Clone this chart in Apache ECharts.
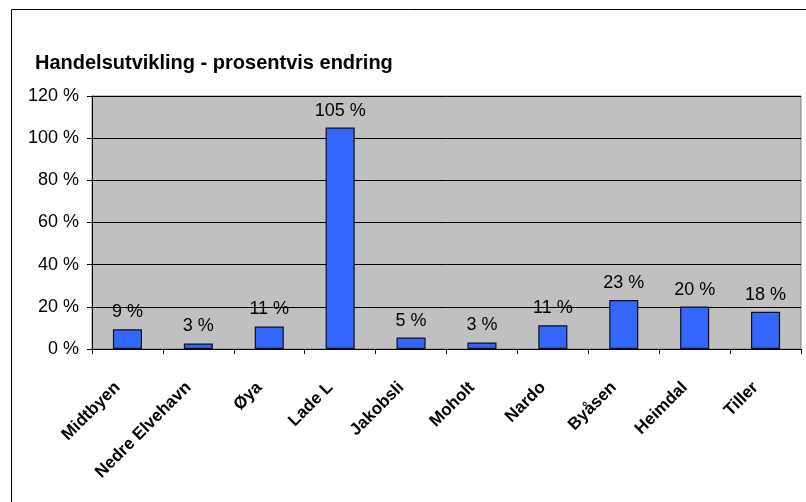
<!DOCTYPE html>
<html>
<head>
<meta charset="utf-8">
<script src="https://cdn.jsdelivr.net/npm/echarts@6/dist/echarts.min.js"></script>
<style>html,body{margin:0;padding:0;background:#fff}#c{width:806px;height:502px}</style>
</head>
<body>
<div id="c"></div>
<script>
const titleText = 'Handelsutvikling - prosentvis endring';
const categories = ['Midtbyen','Nedre Elvehavn','Øya','Lade L','Jakobsli','Moholt','Nardo','Byåsen','Heimdal','Tiller'];
const values = [9.4, 2.6, 10.7, 105.0, 5.4, 3.1, 11.3, 23.2, 20.1, 17.7];
const yTicks = [0, 20, 40, 60, 80, 100, 120];

const chart = echarts.init(document.getElementById('c'), null, {renderer:'canvas'});
const font = 'Arial, "Liberation Sans", sans-serif';
chart.setOption({
  animation: false,
  backgroundColor: '#ffffff',
  title: {
    text: titleText, left: 30, top: 48,
    textStyle: {fontFamily: font, fontSize: 20, fontWeight: 'bold', color: '#000'}
  },
  graphic: [{
    type: 'rect', shape: {x: 11.5, y: 9.5, width: 900, height: 600},
    style: {fill: 'none', stroke: '#000', lineWidth: 1}, silent: true, z: 100
  }],
  grid: {left: 92, right: 5, top: 96, bottom: 153, show: true, backgroundColor: '#C0C0C0', borderColor: '#808080', borderWidth: 1},
  xAxis: {
    type: 'category', data: categories, boundaryGap: true,
    axisLine: {lineStyle: {color: '#000', width: 1}},
    axisTick: {show: true, inside: false, length: 5, lineStyle: {color: '#000'}},
    axisLabel: {rotate: 45, margin: 26, padding: [0, 14, 0, 0], interval: 0, fontFamily: font, fontSize: 17, fontWeight: 'bold', color: '#000'}
  },
  yAxis: {
    type: 'value', min: yTicks[0], max: yTicks[yTicks.length-1], interval: 20,
    axisLine: {show: true, lineStyle: {color: '#000'}},
    axisTick: {show: true, length: 5, lineStyle: {color: '#000'}},
    splitLine: {show: true, lineStyle: {color: '#000', width: 1}},
    axisLabel: {formatter: '{value} %', margin: 13, fontFamily: font, fontSize: 18, color: '#000'}
  },
  series: [{
    type: 'bar', data: values, barWidth: '41%',
    itemStyle: {color: '#3366FF', borderColor: '#111111', borderWidth: 1.2},
    label: {show: true, position: 'top', distance: 8, formatter: p => Math.round(p.value) + ' %',
      fontFamily: font, fontSize: 18, color: '#000'}
  }]
});
</script>
</body>
</html>
